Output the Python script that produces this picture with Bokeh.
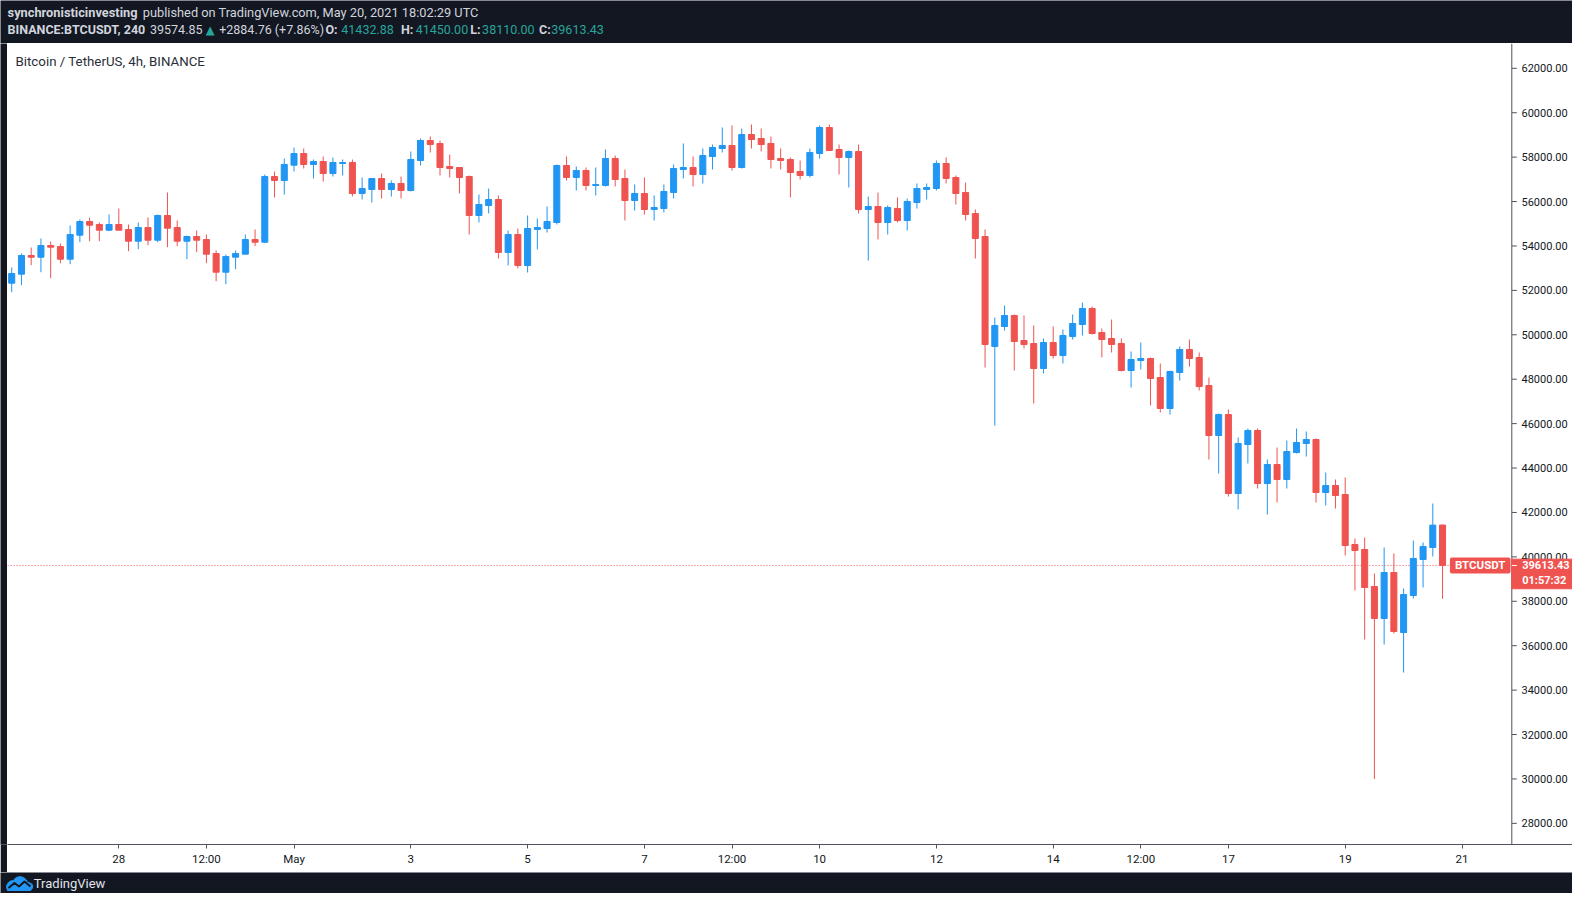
import pandas as pd
from bokeh.plotting import figure
from bokeh.layouts import column, row
from bokeh.models import (Range1d, ColumnDataSource, FixedTicker,
                          PrintfTickFormatter, Label, Span)
from bokeh.core.properties import value
from bokeh.embed import file_html
from bokeh.resources import INLINE

# ---------------- data (BINANCE:BTCUSDT, 4h candles) ----------------
first_candle = "2021-04-26 04:00"

opens = [52324, 52730, 53570, 53495, 54020, 53975, 53405, 54486, 55101, 54966,
         54711, 54966, 54741, 54215, 54831, 54260, 55371, 54831, 54215, 54426,
         54290, 53660, 52819, 53495, 53630, 54290, 54170, 57127, 56947, 57638,
         58163, 57668, 57803, 57262, 57713, 57758, 56362, 56542, 57037, 56543,
         56813, 56498, 57848, 58749, 58614, 57578, 57533, 57128, 55372, 55822,
         56092, 53706, 54516, 53120, 54741, 54786, 55057, 57623, 57083, 57398,
         56723, 56723, 57939, 57038, 56047, 56363, 55642, 55687, 56408, 57443,
         57533, 57218, 58029, 58389, 58524, 57533, 59019, 58839, 58614, 57939,
         57894, 57353, 57173, 58164, 59334, 58344, 57984, 58254, 55642, 55777,
         55057, 55687, 55147, 55957, 56543, 56588, 57713, 57083, 56408, 55462,
         54426, 49473, 50373, 50869, 49743, 49608, 48482, 49653, 49067, 49923,
         50463, 51184, 50103, 49833, 49608, 48392, 48842, 48932, 48077, 46681,
         48302, 49337, 48977, 47716, 45465, 46410, 42853, 45060, 45690, 43303,
         44159, 43484, 44699, 45105, 45285, 42898, 43213, 42808, 40557, 40332,
         38666, 37225, 39296, 36594, 38261, 39882, 40422, 41432.88]
highs = [53030, 53660, 53930, 54335, 54200, 54110, 54921, 55191, 55281, 55056,
         55416, 55686, 54966, 55056, 55281, 55416, 56407, 55146, 54471, 54696,
         54516, 53795, 53615, 53795, 54516, 54741, 57217, 57352, 57938, 58433,
         58388, 57893, 58028, 57983, 57893, 57893, 57082, 57037, 57262, 56948,
         57128, 58254, 58839, 58929, 58749, 58119, 57533, 57173, 56317, 56588,
         56272, 54696, 54786, 55372, 55237, 55777, 57668, 58029, 57578, 57533,
         57533, 58344, 58074, 57443, 56768, 57083, 56272, 56768, 57668, 58614,
         58029, 58389, 58569, 59334, 59425, 59289, 59470, 59289, 58929, 58389,
         57984, 57848, 58389, 59425, 59470, 58569, 58299, 58569, 56227, 56408,
         55822, 56182, 56137, 56813, 56813, 57848, 57984, 57173, 56858, 55642,
         54741, 50778, 51319, 50914, 50869, 50418, 49833, 50373, 50238, 50914,
         51454, 51274, 50283, 50688, 49833, 49247, 49653, 48977, 48707, 48392,
         49473, 49788, 49202, 48077, 46456, 46636, 45375, 45780, 45780, 44384,
         44924, 45240, 45780, 45645, 45330, 43799, 43484, 43574, 40827, 40872,
         39251, 40422, 40152, 38576, 40737, 40647, 42403, 41450.00]
lows = [51919, 52235, 53135, 52819, 52549, 53225, 53180, 54170, 54215, 54215,
        54666, 54711, 53765, 53855, 54035, 54170, 53945, 53990, 53405, 53720,
        53225, 52414, 52279, 52955, 53630, 53990, 54125, 56182, 56317, 57352,
        57488, 57037, 56902, 57127, 57172, 56227, 56092, 55957, 56137, 56227,
        56137, 56453, 57623, 58209, 57173, 57083, 56363, 54516, 55057, 55462,
        53436, 53120, 52985, 52805, 53841, 54606, 54967, 56948, 56498, 56498,
        56272, 56678, 56678, 55147, 55597, 55417, 55147, 55507, 56137, 57038,
        56678, 56813, 57443, 58209, 57398, 57488, 58389, 58254, 57488, 57443,
        56182, 56993, 57083, 57939, 58299, 57218, 56633, 55462, 53345, 54291,
        54516, 55057, 54696, 55687, 56092, 56498, 56813, 55867, 55147, 53435,
        48527, 45915, 50193, 48392, 49383, 46906, 48257, 48932, 48707, 49788,
        49968, 50013, 48977, 49202, 48347, 47626, 48437, 46816, 46501, 46410,
        47941, 48572, 47491, 44384, 43754, 42718, 42133, 44204, 43078, 41907,
        42448, 43078, 44654, 44519, 42448, 42313, 42178, 40062, 38486, 36279,
        30000, 36054, 36549, 34793, 38125, 38621, 40017, 38110.00]
closes = [52759, 53570, 53495, 54020, 53945, 53405, 54516, 55101, 54936, 54711,
          54966, 54711, 54215, 54831, 54260, 55371, 54801, 54215, 54426, 54260,
          53630, 52819, 53525, 53660, 54290, 54170, 57127, 56947, 57668, 58163,
          57668, 57803, 57262, 57758, 57758, 56362, 56587, 57037, 56542, 56813,
          56498, 57894, 58749, 58569, 57533, 57488, 57083, 55372, 55867, 56092,
          53706, 54516, 53120, 54786, 54831, 55102, 57623, 57083, 57398, 56723,
          56768, 57939, 56993, 56047, 56363, 55642, 55732, 56453, 57488, 57533,
          57218, 58074, 58434, 58524, 57533, 59019, 58794, 58569, 57894, 57848,
          57308, 57173, 58209, 59334, 58299, 57984, 58254, 55642, 55777, 55057,
          55732, 55147, 56002, 56588, 56633, 57713, 57038, 56363, 55417, 54336,
          49563, 50418, 50869, 49698, 49563, 48482, 49653, 49067, 49968, 50508,
          51184, 50058, 49788, 49563, 48392, 48887, 48932, 48032, 46681, 48347,
          49337, 48932, 47671, 45465, 46410, 42853, 45105, 45690, 43303, 44159,
          43484, 44744, 45150, 45285, 42898, 43213, 42763, 40512, 40287, 38621,
          37225, 39296, 36639, 38306, 39927, 40467, 41430, 39613.43]

x_tick_times = ["2021-04-28 00:00", "2021-04-29 12:00", "2021-05-01 00:00",
                "2021-05-03 00:00", "2021-05-05 00:00", "2021-05-07 00:00",
                "2021-05-08 12:00", "2021-05-10 00:00", "2021-05-12 00:00",
                "2021-05-14 00:00", "2021-05-15 12:00", "2021-05-17 00:00",
                "2021-05-19 00:00", "2021-05-21 00:00"]
x_tick_labels = ["28", "12:00", "May", "3", "5", "7", "12:00", "10", "12",
                 "14", "12:00", "17", "19", "21"]
y_ticks = [28000, 30000, 32000, 34000, 36000, 38000, 40000, 42000, 44000,
           46000, 48000, 50000, 52000, 54000, 56000, 58000, 60000, 62000]

symbol = "BTCUSDT"
last_price = 39613.43
countdown = "01:57:32"
chart_title = "Bitcoin / TetherUS, 4h, BINANCE"

# ---------------- styling / layout constants ----------------
DARK = "#131722"
UP = "#2196f3"
DOWN = "#ef5350"
TEAL = "#26a69a"
LIGHT = "#d1d4dc"
AXIS = "#50535e"
FONT = "Roboto"

TOTAL_W = 1572
LEFT_STRIP = 7
HDR_H, FTR_H = 43, 21
FRAME_W, FRAME_H, XAXIS_H = TOTAL_W - LEFT_STRIP, 801, 28
PX_PER_DAY = 58.4
DAY_MS = 86400000.0
Y_LO, Y_HI = 27048, 63117
PRICE_PER_PX = (Y_HI - Y_LO) / FRAME_H

anchor_ms = pd.Timestamp("2021-04-28").value / 1e6     # sits at page x 118.3
x_start = anchor_ms - (118.3 - LEFT_STRIP) / PX_PER_DAY * DAY_MS
x_end = x_start + FRAME_W / PX_PER_DAY * DAY_MS


def page_x(px):
    return x_start + (px - LEFT_STRIP) / PX_PER_DAY * DAY_MS


SCALE_X = page_x(1511.3)      # price-scale separator
times = pd.date_range(first_candle, periods=len(opens), freq="4h")
colors = [UP if c >= o else DOWN for o, c in zip(opens, closes)]
src = ColumnDataSource(dict(
    t=times, o=opens, h=highs, l=lows, c=closes,
    top=[max(o, c) for o, c in zip(opens, closes)],
    bottom=[min(o, c) for o, c in zip(opens, closes)],
    color=colors))

p = figure(x_axis_type="datetime", y_axis_location="right",
           frame_width=FRAME_W, frame_height=FRAME_H,
           x_range=Range1d(x_start, x_end), y_range=Range1d(Y_LO, Y_HI),
           output_backend="svg", toolbar_location=None,
           min_border_left=0, min_border_top=0,
           min_border_right=0, min_border_bottom=XAXIS_H,
           outline_line_color=None,
           background_fill_color="white", border_fill_color="white")
p.xgrid.visible = False
p.ygrid.visible = False

# time axis
tick_ms = [pd.Timestamp(s).value // 10**6 for s in x_tick_times]
xa = p.xaxis[0]
xa.ticker = FixedTicker(ticks=tick_ms, minor_ticks=[])
xa.major_label_overrides = {int(t): lab for t, lab in zip(tick_ms, x_tick_labels)}
xa.axis_line_color = AXIS
xa.major_tick_line_color = AXIS
xa.minor_tick_line_color = None
xa.major_tick_in = 0
xa.major_tick_out = 4
xa.major_label_standoff = 3
xa.major_label_text_font = FONT
xa.major_label_text_font_size = "11.5px"
xa.major_label_text_color = DARK

# price axis: labels pulled back into the price-scale strip
ya = p.yaxis[0]
ya.ticker = FixedTicker(ticks=y_ticks, minor_ticks=[])
ya.formatter = PrintfTickFormatter(format="%.2f")
ya.axis_line_color = None
ya.major_tick_line_color = None
ya.minor_tick_line_color = None
ya.major_tick_in = 0
ya.major_tick_out = 0
ya.major_label_standoff = -51
ya.major_label_text_font = FONT
ya.major_label_text_font_size = "11px"
ya.major_label_text_color = DARK

# price-scale separator, last price dotted line
p.add_layout(Span(location=SCALE_X, dimension="height", line_color=AXIS,
                  line_width=1, level="underlay"))
p.add_layout(Span(location=last_price, dimension="width", line_color=DOWN,
                  line_dash="1 2", line_width=1, level="underlay"))
p.segment(x0=[SCALE_X] * len(y_ticks), y0=y_ticks,
          x1=[page_x(1516.3)] * len(y_ticks), y1=y_ticks,
          line_color=AXIS, line_width=1)

# candles
body_w = 4 * 3600 * 1000 * 0.62
p.segment(x0="t", y0="l", x1="t", y1="h", line_color="color",
          line_width=1, source=src)
p.vbar(x="t", width=body_w, top="top", bottom="bottom",
       fill_color="color", line_color="color", line_width=1, source=src)

# price tag on the price scale (drawn over the scale labels)
p.rect(x=[page_x(1543.6)], y=[last_price - 8.5 * PRICE_PER_PX],
       width=64.7, height=29.6, width_units="screen", height_units="screen",
       fill_color=DOWN, line_color=DOWN, level="overlay")
p.segment(x0=[SCALE_X], y0=[last_price], x1=[page_x(1516.3)], y1=[last_price],
          line_color="white", line_width=1, level="overlay")
p.text(x=[page_x(1521.7)] * 2, y=[last_price] * 2,
       text=[f"{last_price:.2f}", countdown], y_offset=[0, 15],
       text_font=value(FONT), text_font_size="11px", text_font_style="bold",
       text_color="white", text_align="left", text_baseline="middle",
       level="overlay")

# title inside chart
p.add_layout(Label(x=8, y=783.2, x_units="screen", y_units="screen",
                   text=chart_title, text_font=FONT, text_font_size="13.3px",
                   text_color="#2a2e39", text_baseline="middle"))

# symbol tag on price line
p.add_layout(Label(x=1472.7, y=last_price, x_units="screen", y_units="data",
                   text=symbol, text_font=FONT, text_font_size="11.5px",
                   text_font_style="bold", text_color="white",
                   text_align="center", text_baseline="middle",
                   background_fill_color=DOWN, background_fill_alpha=1.0,
                   padding=dict(left=5, right=5, top=1, bottom=1),
                   border_radius=2))

# ---------------- left dark strip ----------------
strip = figure(width=LEFT_STRIP, height=FRAME_H + XAXIS_H,
               output_backend="svg", toolbar_location=None,
               x_axis_location=None, y_axis_location=None, min_border=0,
               outline_line_color=None, background_fill_color=DARK,
               border_fill_color=DARK)
strip.grid.visible = False

# ---------------- header ----------------
hdr = figure(width=TOTAL_W, height=HDR_H, x_range=Range1d(0, TOTAL_W),
             y_range=Range1d(0, HDR_H), output_backend="svg",
             toolbar_location=None, x_axis_location=None,
             y_axis_location=None, min_border=0, outline_line_color=None,
             background_fill_color=DARK, border_fill_color=DARK)
hdr.grid.visible = False

line1 = [("synchronisticinvesting", 7.1, "bold", "12.8px", LIGHT),
         ("published on TradingView.com, May 20, 2021 18:02:29 UTC", 142.3,
          "normal", "12.8px", LIGHT)]
line2 = [("BINANCE:BTCUSDT, 240", 7.1, "bold", "12.5px", LIGHT),
         ("39574.85", 149.5, "normal", "12.5px", LIGHT),
         ("+2884.76 (+7.86%)", 218.7, "normal", "12.5px", LIGHT),
         ("O:", 325, "bold", "12.5px", LIGHT), ("41432.88", 340.8, "normal", "12.5px", TEAL),
         ("H:", 400.5, "bold", "12.5px", LIGHT), ("41450.00", 415.2, "normal", "12.5px", TEAL),
         ("L:", 469.8, "bold", "12.5px", LIGHT), ("38110.00", 481.6, "normal", "12.5px", TEAL),
         ("C:", 538.5, "bold", "12.5px", LIGHT), ("39613.43", 550.8, "normal", "12.5px", TEAL)]
for items, yy in ((line1, HDR_H - 12.2), (line2, HDR_H - 29.4)):
    for txt, xx, style, size, col in items:
        hdr.add_layout(Label(x=xx, y=yy, x_units="screen", y_units="screen",
                             text=txt, text_font=FONT, text_font_size=size,
                             text_font_style=style, text_color=col,
                             text_baseline="middle"))
hdr.add_layout(Label(x=205.3, y=HDR_H - 29.4, x_units="screen", y_units="screen",
                     text="\u25b2", text_font="DejaVu Sans",
                     text_font_size="11.5px", text_color=TEAL,
                     text_baseline="middle"))

# ---------------- footer ----------------
ftr = figure(width=TOTAL_W, height=FTR_H, x_range=Range1d(0, TOTAL_W),
             y_range=Range1d(0, FTR_H), output_backend="svg",
             toolbar_location=None, x_axis_location=None,
             y_axis_location=None, min_border=0, outline_line_color=None,
             background_fill_color=DARK, border_fill_color=DARK)
ftr.grid.visible = False
cloud_x = [7, 30, 32, 32, 30, 27, 26, 23, 19, 15, 13, 10, 7.5, 6, 6.5]
cloud_y = [3, 3, 5.5, 8.5, 10.5, 11, 13.5, 16, 17, 15.5, 13, 12.5, 10.5, 7.5, 4.5]
ftr.patch(cloud_x, cloud_y, fill_color=UP, line_color=UP)
ftr.line([8, 14, 18.5, 24, 30], [5.5, 10.5, 7, 12, 7], line_color=DARK,
         line_width=2)
ftr.add_layout(Label(x=33.3, y=10, x_units="screen", y_units="screen",
                     text="TradingView", text_font=FONT, text_font_size="13px",
                     text_color="#e0e3eb", text_baseline="middle"))

layout = column(hdr, row(strip, p, spacing=0), ftr, spacing=0)
open("out.html", "w").write(file_html(layout, INLINE))
